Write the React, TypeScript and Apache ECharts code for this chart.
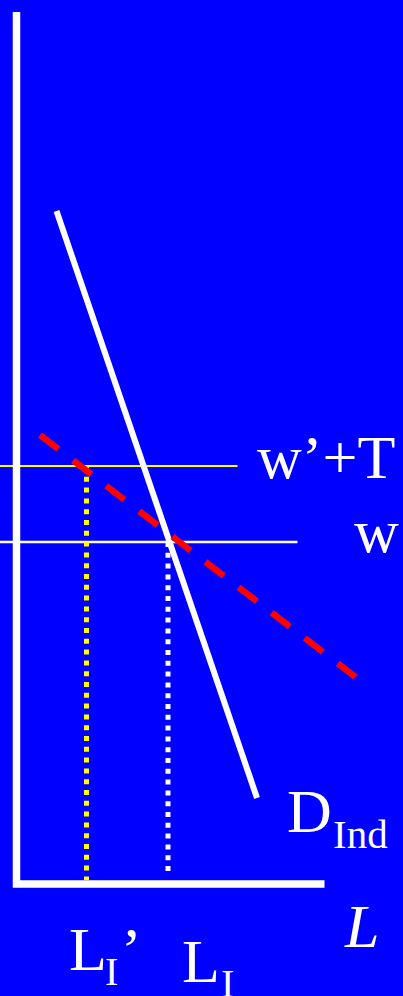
import React, { useEffect, useRef } from "react";
import * as echarts from "echarts";

// Coordinates in diagram units: origin at the corner of the axes (L = 0, wage = 0)
const axisPath: number[][] = [[0, 872], [0, 0], [308, 0]];
const demandLine: number[][] = [[40, 673], [240.5, 86]];
const shiftedDemand: number[][] = [[23.5, 449], [339, 207]];
const wagePlusTax: number[][] = [[-17, 418], [221, 418]];
const wageLine: number[][] = [[-17, 342], [281, 342]];
const dropLIprime: number[][] = [[70, 418], [70, 4]];
const dropLI: number[][] = [[151.5, 342], [151.5, 9]];

const BLUE = "#0000FF";
const SERIF = "'Liberation Serif', 'Times New Roman', serif";

function txt(text: string, left: number, baseline: number, size: number, italic = false) {
  return {
    type: "text",
    left: left,
    top: baseline - 0.3375 * size,
    style: {
      text,
      fill: "#FFFFFF",
      font: `${italic ? "italic " : ""}${size}px ${SERIF}`,
      textAlign: "left",
      textVerticalAlign: "middle",
      verticalAlign: "middle",
    },
  };
}

export default function App() {
  const ref = useRef<HTMLDivElement>(null);
  useEffect(() => {
    if (!ref.current) return;
    const chart = echarts.init(ref.current, null, { renderer: "svg" });
    const line = (data: number[][], color: string, width: number, type: any, z: number, extra: any = {}) => ({
      type: "line",
      data,
      showSymbol: false,
      symbol: "none",
      silent: true,
      z,
      lineStyle: { color, width, type, cap: "butt", join: "miter", ...extra },
    });
    const textEls: any[] = [
      txt("w\u2019+T", 257, 478, 62),
      txt("w", 354, 552, 62),
      txt("D", 287, 832, 62),
      txt("Ind", 333, 848, 41),
      txt("L", 345, 947, 62, true),
      txt("L", 69, 970, 62),
      txt("I", 105, 985, 40),
      txt("\u2019", 121, 970, 62),
      txt("L", 182, 982, 62),
      txt("I", 221, 997, 40),
    ].map((e) => {
      // graphic text placed by its pixel y center
      const y = e.top;
      return { type: "text", x: e.left, y, style: e.style, z: 100 };
    });
    chart.setOption({
      animation: false,
      backgroundColor: BLUE,
      grid: { left: 0, right: 0, top: 0, bottom: 0 },
      xAxis: { type: "value", min: -16.5, max: 386.5, show: false },
      yAxis: { type: "value", min: -112, max: 884, show: false },
      series: [
        line(wagePlusTax, "#FFFF00", 2, "solid", 2),
        line(wageLine, "#FFFFFF", 2.5, "solid", 2),
        line(dropLIprime, "#FFFF00", 5, [5, 5.8], 3),
        line(dropLI, "#FFFFFF", 5, [5, 5.8], 3),
        line(axisPath, "#FFFFFF", 7.5, "solid", 4),
        line(demandLine, "#FFFFFF", 6, "solid", 5),
        line(shiftedDemand, "#FF0000", 6.5, [23, 18.7], 6),
      ],
      graphic: textEls,
    });
    return () => chart.dispose();
  }, []);
  return (
    <div
      ref={ref}
      style={{ position: "fixed", left: 0, top: 0, width: 403, height: 996, background: BLUE }}
    />
  );
}
